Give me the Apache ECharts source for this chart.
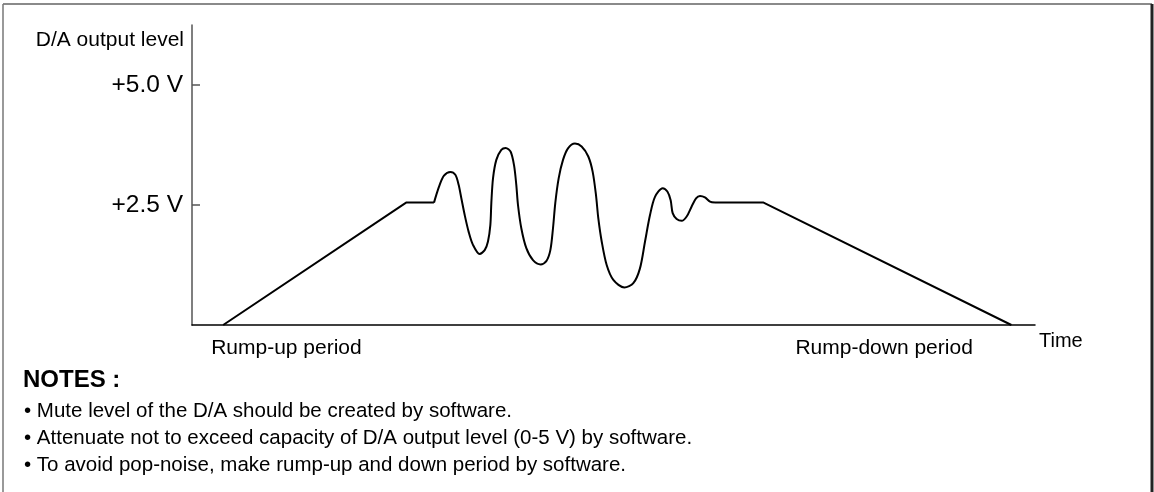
<!DOCTYPE html>
<html>
<head>
<meta charset="utf-8">
<script src="https://cdn.jsdelivr.net/npm/echarts@6/dist/echarts.min.js"></script>
<style>
  html, body { margin: 0; padding: 0; background: #fff; }
  #main { width: 1154px; height: 492px; }
</style>
</head>
<body>
<div id="main"></div>
<script>
// time axis is in arbitrary units (0..100), level in volts
var rampUpTime = [3.7, 25.4, 28.7];
var rampUpLevel = [0, 2.55, 2.55];

// waveform
var waveTime = [
  28.71, 28.98, 29.38, 29.89, 30.64, 31.24, 31.63, 31.95, 32.35, 32.82, 33.33, 34.12,
  34.72, 35.11, 35.39, 35.51, 35.71, 36.10, 36.69, 37.21, 37.80, 38.20, 38.47, 38.67,
  39.07, 39.66, 40.45, 41.36, 42.03, 42.51, 42.82, 43.10, 43.50, 44.01, 44.60, 45.43,
  46.22, 47.01, 47.53, 47.92, 48.20, 48.60, 49.19, 49.98, 51.29, 52.35, 53.14, 53.74,
  54.33, 54.92, 55.83, 56.39, 56.78, 57.02, 57.49, 58.09, 58.68, 59.27, 59.79, 60.26,
  60.85, 61.45, 62.04
];
var waveLevel = [
  2.55, 2.71, 2.92, 3.11, 3.19, 3.13, 2.92, 2.64, 2.29, 1.94, 1.67, 1.48,
  1.56, 1.74, 2.08, 2.55, 3.06, 3.44, 3.65, 3.69, 3.61, 3.33, 2.92, 2.50,
  2.01, 1.60, 1.35, 1.26, 1.33, 1.56, 2.01, 2.55, 3.06, 3.44, 3.68, 3.78,
  3.72, 3.51, 3.19, 2.71, 2.22, 1.74, 1.25, 0.94, 0.78, 0.87, 1.18, 1.74,
  2.29, 2.67, 2.85, 2.78, 2.60, 2.33, 2.21, 2.17, 2.26, 2.47, 2.64, 2.69,
  2.66, 2.57, 2.55
];

var rampDownTime = [62.04, 67.8, 97.2];
var rampDownLevel = [2.55, 2.55, 0];

var levelTicks = [2.5, 5.0];
var periodLabelPos = [11.2, 82.1];
var periodLabels = ['Rump-up period', 'Rump-down period'];

var notes = [
  'Mute level of the D/A should be created by software.',
  'Attenuate not to exceed capacity of D/A output level (0-5 V) by software.',
  'To avoid pop-noise, make rump-up and down period by software.'
];

var FONT = '"Liberation Sans", Arial, Helvetica, sans-serif';

function pairs(xs, ys) {
  var out = [];
  for (var i = 0; i < xs.length; i++) {
    out.push([xs[i], ys[i]]);
  }
  return out;
}

var chart = echarts.init(document.getElementById('main'), null, { renderer: 'canvas' });

var graphics = [
  { type: 'line', shape: { x1: 3, y1: 4, x2: 1152, y2: 4 }, style: { stroke: '#8a8a8a', lineWidth: 2 } },
  { type: 'line', shape: { x1: 3, y1: 4, x2: 3, y2: 492 }, style: { stroke: '#777', lineWidth: 1.5 } },
  { type: 'line', shape: { x1: 1152, y1: 4, x2: 1152, y2: 492 }, style: { stroke: '#222', lineWidth: 3 } },
  {
    type: 'text', left: 23, top: 368,
    style: { text: 'NOTES :', font: 'bold 24px ' + FONT, fill: '#000' }
  }
];
notes.forEach(function (t, i) {
  graphics.push({
    type: 'text', left: 24, top: 401 + i * 27,
    style: { text: '\u2022 ' + t, font: '20.5px ' + FONT, fill: '#000' }
  });
});

var lineStyle = { color: '#000', width: 2 };

chart.setOption({
  animation: false,
  backgroundColor: '#fff',
  textStyle: { fontFamily: FONT },
  grid: { left: 192, top: 25, right: 119, bottom: 167, outerBoundsMode: 'none' },
  xAxis: {
    type: 'value',
    min: 0,
    max: 100,
    name: 'Time',
    nameLocation: 'end',
    nameGap: 4,
    nameTextStyle: { fontSize: 20, color: '#000', align: 'left', verticalAlign: 'top', padding: [6, 0, 0, 0] },
    axisLine: { show: true, lineStyle: { color: '#000', width: 1.5 } },
    axisTick: { show: false },
    splitLine: { show: false },
    axisLabel: {
      customValues: periodLabelPos,
      fontSize: 21,
      color: '#000',
      margin: 13,
      formatter: function (v) {
        var i = periodLabelPos.indexOf(v);
        return i >= 0 ? periodLabels[i] : '';
      }
    }
  },
  yAxis: {
    type: 'value',
    min: 0,
    max: 6.25,
    name: 'D/A output level',
    nameLocation: 'end',
    nameGap: -15,
    nameTextStyle: { fontSize: 21, color: '#000', align: 'right', verticalAlign: 'middle', padding: [0, 8, 0, 0] },
    axisLine: { show: true, lineStyle: { color: '#555', width: 1.5 } },
    axisTick: { show: true, inside: true, length: 8, customValues: levelTicks, lineStyle: { color: '#555', width: 1.5 } },
    splitLine: { show: false },
    axisLabel: {
      customValues: levelTicks,
      fontSize: 24.5,
      color: '#000',
      margin: 9,
      formatter: function (v) { return '+' + v.toFixed(1) + ' V'; }
    }
  },
  series: [
    { type: 'line', data: pairs(rampUpTime, rampUpLevel), showSymbol: false, lineStyle: lineStyle },
    { type: 'line', data: pairs(waveTime, waveLevel), showSymbol: false, smooth: 0.3, lineStyle: lineStyle },
    { type: 'line', data: pairs(rampDownTime, rampDownLevel), showSymbol: false, lineStyle: lineStyle }
  ],
  graphic: graphics
});
</script>
</body>
</html>
